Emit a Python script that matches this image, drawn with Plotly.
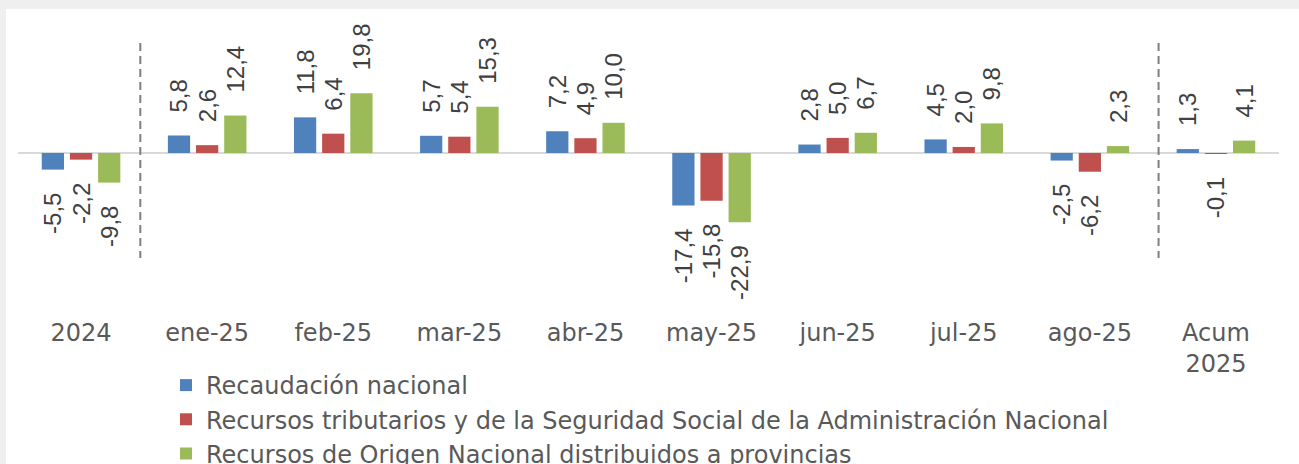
import plotly.graph_objects as go

categorias = ["2024", "ene-25", "feb-25", "mar-25", "abr-25", "may-25",
              "jun-25", "jul-25", "ago-25", "Acum<br>2025"]
recaudacion = [-5.5, 5.8, 11.8, 5.7, 7.2, -17.4, 2.8, 4.5, -2.5, 1.3]
tributarios = [-2.2, 2.6, 6.4, 5.4, 4.9, -15.8, 5.0, 2.0, -6.2, -0.1]
origen_nac = [-9.8, 12.4, 19.8, 15.3, 10.0, -22.9, 6.7, 9.8, 2.3, 4.1]

series = [
    ("Recaudación nacional", recaudacion, "#4f81bd"),
    ("Recursos tributarios y de la Seguridad Social de la Administración Nacional", tributarios, "#c0504d"),
    ("Recursos de Origen Nacional distribuidos a provincias", origen_nac, "#9bbb59"),
]

W, H = 1299, 464
L, R, T, B = 18, 20, 10, 146
k = 3.02  # px per unit
zero_px = 153
y_top = (zero_px - T) / k
y_bot = -((H - B) - zero_px) / k

pad = "\u00a0\u00a0\u00a0"


def etiqueta(v):
    s = f"{v:.1f}".replace(".", ",")
    return pad + s if v >= 0 else s + pad


fig = go.Figure()
for nombre, vals, color in series:
    fig.add_trace(go.Bar(
        x=categorias, y=vals, name=nombre,
        marker=dict(color=color, line=dict(width=0)),
        text=[etiqueta(v) for v in vals],
        textposition="outside", textangle=-90,
        constraintext="none", cliponaxis=False,
        textfont=dict(family="Liberation Sans", size=24, color="#404040"),
    ))

# separadores punteados
for xpos in [0.47, 8.545]:
    fig.add_shape(type="line", xref="x", yref="y", x0=xpos, x1=xpos,
                  y0=36.4, y1=-34.8,
                  line=dict(color="#7f7f7f", width=2, dash="8px,5px"))

# marco gris de la captura
fig.add_shape(type="rect", xref="paper", yref="paper", layer="below",
              x0=(6 - L) / (W - L - R), x1=1.1, y0=-1, y1=(H - B - 9) / (H - B - T),
              line=dict(width=0), fillcolor="white")

fig.update_layout(
    width=W, height=H,
    margin=dict(l=L, r=R, t=T, b=B, autoexpand=False),
    paper_bgcolor="#efefef", plot_bgcolor="rgba(0,0,0,0)",
    barmode="group", bargap=0.33, bargroupgap=0.21,
    font=dict(family="DejaVu Sans", color="#595959"),
    showlegend=True,
    legend=dict(orientation="v", xref="container", yref="container",
                x=166 / W, xanchor="left",
                y=1 - 363 / H, yanchor="top",
                font=dict(size=24, color="#595959"), bgcolor="rgba(0,0,0,0)",
                tracegroupgap=0),
)
fig.update_xaxes(range=[-0.5, 9.5], automargin=False, showgrid=False,
                 showline=False, ticks="", ticklabelstandoff=-2,
                 tickfont=dict(size=24, color="#595959"))
fig.update_yaxes(range=[y_bot, y_top], automargin=False, showgrid=False,
                 showticklabels=False,
                 zeroline=True, zerolinecolor="#d9d9d9", zerolinewidth=2)

fig.write_html("out.html", config={"displayModeBar": False},
               post_script="document.body.style.margin='0';")
